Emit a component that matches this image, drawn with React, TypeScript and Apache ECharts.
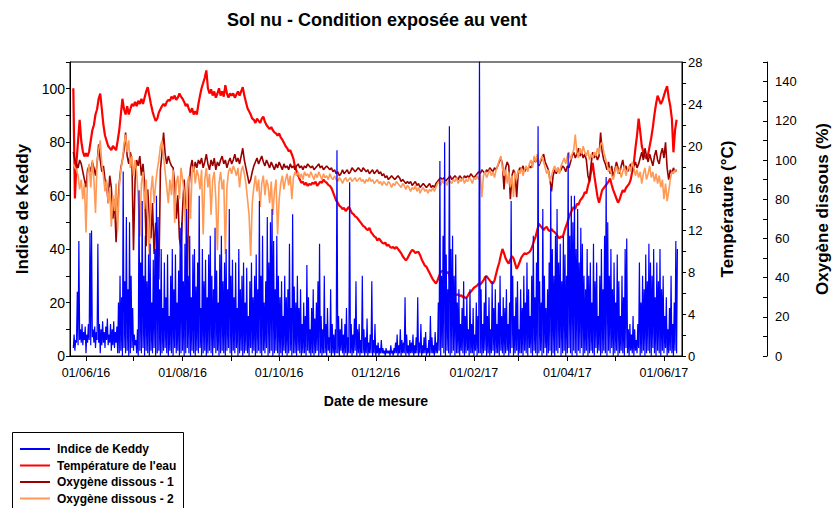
import React, { useEffect, useRef } from "react";
import * as echarts from "echarts";

// ---- data (daily values, day 0 = 24/05/2016) ----
const startDate = "2016-05-24";

const temperature = [
  25.5, 15.0, 18.5, 20.5, 22.5, 20.5, 19.5, 19.0, 19.3, 19.0,
  19.5, 20.5, 21.5, 22.0, 23.0, 23.5, 24.5, 25.0, 23.5, 22.0,
  21.0, 20.5, 20.0, 19.8, 19.6, 20.0, 19.8, 19.6, 20.5, 21.5,
  23.0, 24.5, 23.5, 23.0, 23.8, 23.0, 23.5, 24.0, 23.8, 24.2,
  23.8, 24.3, 24.0, 24.5, 24.0, 24.6, 25.2, 25.6, 24.8, 24.0,
  23.3, 22.8, 22.4, 22.6, 23.2, 23.5, 23.8, 24.0, 23.8, 24.2,
  24.4, 24.3, 24.7, 24.5, 24.8, 24.4, 24.6, 25.0, 24.7, 24.5,
  24.2, 23.8, 24.0, 23.5, 23.2, 23.6, 23.0, 23.3, 23.0, 24.0,
  24.8, 25.5, 26.0, 26.5, 27.2, 25.5, 25.0, 25.4, 24.8, 25.2,
  24.6, 25.0, 25.5, 24.8, 25.2, 24.7, 25.8, 25.0, 24.6, 25.0,
  24.8, 25.0, 24.6, 24.9, 25.2, 24.8, 25.2, 25.6, 24.8, 24.2,
  23.6, 23.3, 23.0, 22.6, 22.5, 22.2, 22.6, 22.4, 22.2, 22.6,
  22.8, 22.3, 22.0, 21.8, 21.6, 21.8, 21.5, 21.3, 21.2, 21.0,
  21.2, 20.8, 20.6, 20.3, 20.0, 19.8, 19.5, 19.6, 19.2, 18.8,
  18.0, 17.6, 17.2, 16.8, 16.5, 16.6, 16.3, 16.5, 16.2, 16.4,
  16.3, 16.5, 16.4, 16.6, 16.2, 16.4, 16.6, 16.5, 16.8, 16.6,
  16.5, 16.3, 16.2, 16.0, 15.6, 15.2, 14.8, 14.6, 14.3, 14.2,
  14.0, 14.1, 13.8, 14.0, 14.2, 13.9, 13.6, 13.5, 13.3, 13.2,
  13.0, 12.8, 12.6, 12.4, 12.3, 12.1, 12.0, 12.2, 11.8, 11.6,
  11.4, 11.3, 11.0, 11.2, 11.0, 10.8, 10.7, 10.8, 10.5, 10.6,
  10.4, 10.3, 10.4, 10.2, 10.4, 10.2, 10.0, 9.8, 9.5, 9.3,
  9.1, 9.3, 9.6, 9.9, 10.1, 10.0, 9.8, 9.9, 9.9, 9.6,
  9.2, 8.9, 8.6, 8.5, 8.2, 7.9, 7.6, 7.3, 7.1, 6.9,
  7.2, 7.6, 8.0, 8.1, 8.0, 8.1, 7.9, 8.0, 7.2, 6.2,
  6.0, 5.9, 5.8, 5.9, 5.7, 5.8, 5.6, 5.6, 5.5, 5.7,
  6.0, 6.1, 6.3, 6.5, 6.6, 6.7, 6.9, 6.8, 7.0, 7.2,
  7.5, 7.6, 7.4, 7.2, 7.0, 6.9, 7.2, 7.8, 8.4, 8.9,
  9.6, 10.2, 9.8, 9.3, 9.0, 8.8, 9.2, 9.5, 9.3, 8.8,
  8.3, 8.6, 9.0, 9.4, 9.6, 9.8, 9.7, 9.8, 9.9, 10.1,
  10.5, 11.0, 11.4, 12.0, 12.6, 12.4, 12.2, 12.0, 12.2, 12.3,
  12.0, 11.9, 12.1, 11.9, 11.8, 11.6, 11.4, 11.2, 11.4, 11.3,
  11.8, 12.3, 12.7, 13.2, 13.6, 13.9, 14.2, 14.0, 14.5, 14.4,
  14.8, 15.0, 15.2, 15.6, 15.5, 16.2, 16.7, 17.6, 18.4, 17.2,
  16.2, 15.2, 14.6, 15.2, 15.8, 16.0, 16.2, 16.4, 16.6, 16.9,
  16.3, 15.8, 15.4, 15.0, 14.6, 14.9, 15.4, 15.8, 15.6, 16.0,
  16.2, 16.4, 16.8, 17.6, 18.4, 19.8, 21.0, 22.6, 21.4, 20.0,
  19.4, 19.0, 18.8, 19.2, 20.0, 20.8, 21.8, 23.0, 24.0, 24.8,
  24.4, 24.0, 24.3, 24.8, 25.3, 25.7, 24.6, 23.8, 22.6, 19.4,
  21.5, 22.5,
];

const oxygen1 = [
  104, 100, 98, 96, 100, 98, 94, 90, 86, 95,
  97, 94, 99, 96, 92, 98, 108, 100, 94, 97,
  90, 88, 78, 92, 86, 70, 80, 58, 75, 88,
  96, 100, 105, 114, 102, 98, 104, 100, 54, 90,
  100, 97, 102, 92, 98, 88, 56, 85, 70, 60,
  78, 52, 68, 62, 39, 95, 104, 114, 103, 98,
  102, 99, 97, 96, 88, 70, 82, 60, 55, 75,
  90, 72, 40, 85, 96, 100, 94, 99, 96, 100,
  98, 101, 96, 99, 103, 98, 95, 100, 97, 101,
  95, 99, 97, 100, 102, 98, 100, 96, 99, 101,
  98, 100, 103, 99, 101, 98, 102, 106, 100, 96,
  92, 88, 90, 94, 97, 99, 101, 98, 100, 102,
  99, 97, 100, 98, 96, 99, 97, 95, 98, 96,
  99, 97, 95, 98, 96, 97, 95, 98, 96, 97,
  95, 97, 98, 96, 97, 95, 97, 96, 98, 97,
  96, 97, 95, 96, 97, 98, 96, 97, 95, 96,
  97, 96, 95, 96, 94, 95, 93, 94, 92, 93,
  95, 93, 94, 95, 93, 94, 96, 95, 94, 95,
  96, 95, 94, 96, 95, 94, 95, 93, 94, 95,
  93, 94, 95, 93, 94, 92, 93, 91, 92, 90,
  91, 92, 91, 90, 91, 92, 91, 89, 90, 89,
  88, 89, 88, 89, 87, 88, 89, 87, 88, 86,
  87, 88, 87, 86, 87, 88, 86, 87, 86, 88,
  89, 90, 91, 90, 91, 89, 90, 91, 92, 90,
  91, 92, 91, 90, 92, 91, 90, 92, 91, 92,
  91, 93, 92, 91, 92, 93, 94, 93, 95, 94,
  93, 95, 94, 96, 95, 94, 96, 95, 97, 99,
  101, 98, 85, 96, 99, 97, 80, 92, 95, 93,
  81, 94, 96, 95, 97, 94, 96, 95, 97, 96,
  98, 100, 99, 101, 97, 99, 101, 103, 99, 97,
  95, 90, 84, 92, 95, 93, 96, 94, 95, 97,
  96, 94, 97, 96, 99, 102, 104, 101, 103, 106,
  102, 104, 101, 103, 100, 92, 89, 98, 104, 101,
  103, 100, 102, 114, 104, 100, 98, 95, 99, 93,
  97, 91, 95, 99, 96, 93, 97, 100, 95, 97,
  94, 96, 98, 94, 97, 99, 96, 98, 101, 104,
  100, 106, 102, 99, 103, 100, 97, 102, 105, 100,
  98, 103, 106, 101, 109, 96, 90, 95, 93, 96,
  94, 95,
];

const oxygen2 = [
  98, 96, 95, 92, 85, 90, 80, 88, 63, 92,
  98, 86, 100, 90, 73, 99, 105, 110, 98, 92,
  84, 90, 78, 86, 66, 82, 74, 88, 64, 86,
  95, 100, 108, 113, 104, 110, 96, 102, 92, 100,
  94, 80, 61, 88, 94, 75, 90, 70, 51, 84,
  92, 78, 88, 95, 100, 107, 110, 102, 94, 86,
  78, 90, 82, 95, 68, 88, 92, 80, 96, 90,
  84, 61, 88, 92, 70, 94, 97, 88, 95, 92,
  85, 95, 62, 90, 96, 86, 93, 72, 90, 94,
  80, 54, 88, 94, 85, 90, 52, 86, 94, 96,
  93, 97, 95, 92, 96, 86, 94, 97, 93, 88,
  80, 72, 51, 78, 86, 92, 84, 90, 76, 88,
  92, 82, 90, 87, 78, 89, 72, 84, 90, 62,
  80, 88, 92, 85, 90, 93, 87, 92, 80, 91,
  94, 92, 94, 91, 93, 90, 94, 92, 93, 91,
  94, 92, 90, 93, 91, 94, 92, 90, 93, 91,
  92, 90, 93, 91, 90, 92, 90, 89, 91, 90,
  88, 90, 91, 89, 90, 91, 89, 90, 91, 89,
  90, 91, 89, 90, 88, 90, 89, 91, 89, 90,
  88, 89, 90, 88, 89, 87, 89, 88, 87, 89,
  88, 86, 88, 87, 89, 88, 87, 86, 88, 87,
  85, 87, 86, 84, 86, 85, 87, 84, 86, 83,
  85, 86, 84, 85, 83, 85, 84, 86, 84, 86,
  88, 89, 87, 90, 88, 89, 87, 90, 89, 88,
  90, 89, 91, 88, 90, 89, 91, 88, 90, 89,
  91, 90, 88, 91, 90, 92, 90, 93, 81, 92,
  94, 91, 93, 95, 92, 94, 91, 95, 97, 100,
  102, 96, 92, 95, 88, 94, 86, 92, 81, 94,
  90, 95, 93, 96, 92, 95, 97, 94, 98, 100,
  96, 102, 99, 103, 98, 100, 102, 99, 96, 93,
  95, 89, 92, 95, 97, 94, 96, 93, 97, 99,
  101, 98, 102, 104, 100, 103, 105, 113, 104, 101,
  106, 103, 107, 104, 102, 105, 100, 103, 101, 104,
  102, 106, 103, 108, 109, 104, 101, 98, 94, 96,
  92, 90, 94, 97, 93, 96, 91, 94, 97, 92,
  95, 97, 94, 99, 96, 92, 95, 91, 94, 88,
  93, 96, 90, 93, 97, 91, 94, 89, 93, 88,
  92, 86, 90, 80, 88, 79, 84, 90, 94, 93,
  95, 94,
];

// Keddy index: daily peak and daily low
const keddyHigh = [
  8, 6, 24, 43, 10, 12, 9, 11, 8,
  12, 46, 47, 10, 11, 9, 42, 12, 10,
  13, 9, 11, 14, 8, 12, 10, 13, 9, 11, 20,
  30, 22, 69, 28, 52, 25, 50, 30, 18, 8,
  6, 10, 62, 35, 58, 30,
  45, 28, 38, 42, 20, 36,
  40, 60, 52, 25,
  40, 18, 35, 22, 38, 15, 30,
  40, 25, 38, 20, 32, 48, 50,
  28, 42, 55, 30, 45, 22, 38, 40, 26, 35, 60, 18,
  40, 28, 36, 22, 38, 45, 30, 25, 48, 32,
  20, 38, 45, 28, 35, 40, 25, 55, 30, 36, 22,
  35, 18, 40, 25, 30, 35, 20, 33, 15, 28, 35, 22,
  30, 38, 25, 58, 30, 45, 20, 28, 52, 35, 50,
  55, 43, 25, 45, 30, 22,
  28, 15, 30, 22, 25, 42, 18, 53, 26, 20, 30,
  18, 25, 12, 20, 15, 34, 22, 10, 18, 25, 14, 20, 28, 42,
  15, 10, 30, 12, 18, 7, 25, 12, 8, 10,
  77, 15, 10, 14, 8, 12, 18, 7, 65, 12,
  8, 14, 28, 10, 12, 6, 30, 10, 7, 14, 5, 8,
  28, 6, 12, 4, 5, 3, 6, 3,
  2, 3, 2, 2, 4, 2, 3,
  5, 8, 4, 10, 6, 5, 22, 8, 4, 6,
  5, 8, 4, 7, 22, 5, 12, 4, 7, 9, 3, 6, 15, 7, 4, 9, 5,
  20, 73, 30, 45, 80, 38, 25, 86, 40, 45, 30, 38,
  20, 25, 12, 18, 28, 15, 22, 10, 25, 12, 18, 8, 20, 15,
  112,
  25, 12, 20, 30, 15, 22, 10, 28, 18, 25, 12, 20, 30, 15, 22,
  18, 25, 12, 20, 58, 30, 15, 22, 28, 10, 25, 18, 30,
  20, 35, 25, 15, 30, 45, 22, 35, 86, 28, 20, 55, 30, 18, 25, 35, 63,
  40, 30, 45, 55, 35, 42, 28, 45, 38, 30, 76,
  45, 60, 50, 60, 40, 55, 35, 48, 42, 30,
  25, 40, 30, 35, 20, 42, 28, 35, 15, 30, 40, 25, 45, 67,
  50, 30, 40, 25, 35, 20, 38, 28, 15, 30, 22, 40, 44,
  10, 12, 8, 15, 10, 6, 12, 35,
  20, 30, 25, 38, 28, 42, 35, 30, 40, 22, 35, 28, 40, 25, 30,
  15, 22, 10, 18, 30, 12, 20, 43, 40,
];

const keddyLow = [
  3, 2, 5, 4, 6, 5, 4, 6, 1, 5, 6, 4, 7, 5, 3, 6, 5, 1, 4, 5,
  3, 6, 4, 5, 2, 4, 3, 5, 1,
  1, 2, 0, 3, 1, 2, 0, 1, 3, 2, 4, 1, 0, 2, 1, 3, 0, 2, 1, 0,
  2, 1, 3, 0, 1, 2, 0, 1, 2, 3, 1, 0, 2, 1, 0, 3, 1, 2, 0, 1,
  2, 0, 1, 3, 1, 0, 2, 1, 0, 2, 1, 3, 0, 1, 2, 0, 1, 2, 1, 0,
  3, 1, 2, 0, 1, 2, 1, 0, 2, 3, 1, 0, 2, 1, 3, 0, 1, 2, 0, 1,
  2, 1, 0, 3, 1, 2, 0, 1, 2, 1, 0, 2, 1, 3, 0, 1, 2, 0, 1, 2,
  1, 0,
  1, 0, 2, 1, 0, 1, 2, 0, 1, 1, 0, 2, 1, 0, 1, 1, 0, 2, 1, 0,
  1, 0, 1, 2, 0, 1, 0, 1, 1, 0, 2, 1, 0, 1, 0, 1, 1, 0, 2, 1,
  0, 1, 0, 1, 1, 0, 1, 2, 0, 1, 0, 1, 1, 0, 1, 0, 1, 1, 0, 1,
  0, 1, 0, 1, 1,
  1, 0, 1, 1, 0, 1, 0, 1, 1, 0, 1, 0, 1, 1, 0, 1, 0, 1, 1, 0,
  1, 1, 0, 1, 0, 1, 1, 0, 1, 0, 1, 1, 0, 1,
  1, 2, 0, 3, 1, 0, 2, 1, 0, 1, 2, 0, 1, 1, 0, 2, 1, 0, 1, 2,
  0, 1, 1, 0, 2, 0, 1, 1, 0, 1, 2, 0, 1, 0, 1, 2, 0, 1, 1, 0,
  2, 1, 0, 1, 2, 0, 1, 3, 0, 1, 2, 0, 1, 1, 0, 2, 1, 0, 3, 1,
  0, 2, 1, 0, 1, 2, 0, 1, 3, 0, 1, 2, 0, 1, 0, 2, 1, 3, 0, 1,
  2, 0, 1, 3, 1, 0, 2, 1, 0, 2, 1, 3, 0, 1, 2, 0, 1, 2, 1, 0,
  3, 1, 2, 0, 1, 2, 1, 0, 2, 1, 3, 0, 1, 2, 0, 1, 2, 1, 0, 3,
  1, 0, 2, 1, 0, 2, 1, 3, 0, 1, 2, 0, 1, 2, 1, 0, 3, 1, 0, 2,
  1, 0, 2, 1, 3, 0, 1, 2, 1, 0, 2, 1,
];

const tickMonths = [
  "2016-06-01", "2016-07-01", "2016-08-01", "2016-09-01", "2016-10-01",
  "2016-11-01", "2016-12-01", "2017-01-01", "2017-02-01", "2017-03-01",
  "2017-04-01", "2017-05-01", "2017-06-01",
];
const labelMonths = [
  "2016-06-01", "2016-08-01", "2016-10-01", "2016-12-01",
  "2017-02-01", "2017-04-01", "2017-06-01",
];

const seriesNames = [
  "Indice de Keddy",
  "Température de l'eau",
  "Oxygène dissous - 1",
  "Oxygène dissous - 2",
];
const seriesColors = ["#0000ff", "#ff0000", "#990000", "#ff9955"];

const DAY = 86400000;
const ts = (s: string) => Date.parse(s + "T00:00:00Z");
const FONT = '"Liberation Sans", Arial, Helvetica, sans-serif';

const fmtDate = (v: number) => {
  const d = new Date(v);
  const dd = String(d.getUTCDate()).padStart(2, "0");
  const mm = String(d.getUTCMonth() + 1).padStart(2, "0");
  const yy = String(d.getUTCFullYear() % 100).padStart(2, "0");
  return `${dd}/${mm}/${yy}`;
};

export default function App() {
  const ref = useRef<HTMLDivElement>(null);

  useEffect(() => {
    if (!ref.current) return;
    const chart = echarts.init(ref.current, undefined, { renderer: "svg" });
    const t0 = ts(startDate);
    const daily = (arr: number[]) => arr.map((v, i) => [t0 + i * DAY, v]);
    const keddy: number[][] = [];
    keddyHigh.forEach((h, i) => {
      keddy.push([t0 + i * DAY, keddyLow[i]]);
      keddy.push([t0 + i * DAY + DAY / 2, h]);
    });

    const axisLineStyle = { color: "#000", width: 1 };
    const lineCommon = {
      type: "line" as const,
      showSymbol: false,
      symbol: "none",
      silent: true,
      clip: true,
      animation: false,
    };

    const legendItems: any[] = [];
    const legendY = [449, 465.5, 482, 498.5];
    seriesNames.forEach((n, i) => {
      legendItems.push({
        type: "line",
        shape: { x1: 20, y1: legendY[i], x2: 50, y2: legendY[i] },
        style: { stroke: seriesColors[i], lineWidth: 2 },
      });
      legendItems.push({
        type: "text",
        x: 57,
        y: legendY[i],
        style: {
          text: n,
          font: `bold 12px ${FONT}`,
          fill: "#000",
          align: "left",
          verticalAlign: "middle",
        },
      });
    });

    chart.setOption({
      animation: false,
      backgroundColor: "#fff",
      grid: {
        left: 70,
        right: 150,
        top: 62,
        bottom: 152,
        show: true,
        borderColor: "#000",
        borderWidth: 1,
        backgroundColor: "transparent",
      },
      xAxis: {
        type: "value",
        min: t0 - 2.1 * DAY,
        max: t0 + 384.4 * DAY,
        axisLine: { show: true, onZero: false, lineStyle: axisLineStyle },
        axisTick: {
          show: true,
          length: 5,
          customValues: tickMonths.map(ts),
          lineStyle: axisLineStyle,
        },
        axisLabel: {
          customValues: labelMonths.map(ts),
          formatter: (v: number) => fmtDate(v),
          margin: 10,
          fontSize: 12.5,
          fontFamily: FONT,
          color: "#000",
          hideOverlap: false,
        },
        splitLine: { show: false },
      },
      yAxis: [
        {
          type: "value",
          position: "left",
          min: 0,
          max: 110,
          interval: 10,
          axisLine: { show: true, lineStyle: axisLineStyle },
          axisTick: { show: true, length: 4, lineStyle: axisLineStyle },
          axisLabel: {
            formatter: (v: number) => (Math.round(v) % 20 === 0 && v <= 100 ? String(Math.round(v)) : ""),
            margin: 5,
            fontSize: 14,
            fontFamily: FONT,
            color: "#000",
          },
          splitLine: { show: false },
        },
        {
          type: "value",
          position: "right",
          min: 0,
          max: 28,
          interval: 2,
          axisLine: { show: true, onZero: false, lineStyle: axisLineStyle },
          axisTick: { show: true, length: 4, lineStyle: axisLineStyle },
          axisLabel: {
            formatter: (v: number) => (Math.round(v) % 4 === 0 ? String(Math.round(v)) : ""),
            margin: 6,
            fontSize: 13,
            fontFamily: FONT,
            color: "#000",
          },
          splitLine: { show: false },
        },
        {
          type: "value",
          position: "right",
          offset: 85,
          min: 0,
          max: 150,
          interval: 10,
          axisLine: { show: true, onZero: false, lineStyle: axisLineStyle },
          axisTick: { show: true, inside: true, length: 4, lineStyle: axisLineStyle },
          axisLabel: {
            formatter: (v: number) => (Math.round(v) % 20 === 0 && v < 150 ? String(Math.round(v)) : ""),
            margin: 8,
            fontSize: 13,
            fontFamily: FONT,
            color: "#000",
          },
          splitLine: { show: false },
        },
      ],
      series: [
        {
          ...lineCommon,
          name: seriesNames[1],
          yAxisIndex: 1,
          data: daily(temperature),
          lineStyle: { color: seriesColors[1], width: 2.2 },
          itemStyle: { color: seriesColors[1] },
          z: 2,
        },
        {
          ...lineCommon,
          name: seriesNames[2],
          yAxisIndex: 2,
          data: daily(oxygen1),
          lineStyle: { color: seriesColors[2], width: 1.6 },
          itemStyle: { color: seriesColors[2] },
          z: 3,
        },
        {
          ...lineCommon,
          name: seriesNames[3],
          yAxisIndex: 2,
          data: daily(oxygen2),
          lineStyle: { color: seriesColors[3], width: 1.6 },
          itemStyle: { color: seriesColors[3] },
          z: 4,
        },
        {
          ...lineCommon,
          name: seriesNames[0],
          yAxisIndex: 0,
          data: keddy,
          lineStyle: { color: seriesColors[0], width: 1.2 },
          itemStyle: { color: seriesColors[0] },
          z: 5,
        },
      ],
      graphic: [
        {
          type: "text",
          x: 377,
          y: 20,
          style: {
            text: "Sol nu - Condition exposée au vent",
            font: `bold 18px ${FONT}`,
            fill: "#000",
            align: "center",
            verticalAlign: "middle",
          },
        },
        {
          type: "text",
          x: 22,
          y: 209,
          rotation: Math.PI / 2,
          style: {
            text: "Indice de Keddy",
            font: `bold 17px ${FONT}`,
            fill: "#000",
            align: "center",
            verticalAlign: "middle",
          },
        },
        {
          type: "text",
          x: 727,
          y: 209,
          rotation: Math.PI / 2,
          style: {
            text: "Température (°C)",
            font: `bold 17px ${FONT}`,
            fill: "#000",
            align: "center",
            verticalAlign: "middle",
          },
        },
        {
          type: "text",
          x: 822,
          y: 209,
          rotation: Math.PI / 2,
          style: {
            text: "Oxygène dissous (%)",
            font: `bold 17px ${FONT}`,
            fill: "#000",
            align: "center",
            verticalAlign: "middle",
          },
        },
        {
          type: "text",
          x: 376,
          y: 401,
          style: {
            text: "Date de mesure",
            font: `bold 14px ${FONT}`,
            fill: "#000",
            align: "center",
            verticalAlign: "middle",
          },
        },
        {
          type: "rect",
          shape: { x: 12.5, y: 432.5, width: 171, height: 90 },
          style: { fill: "#fff", stroke: "#000", lineWidth: 1 },
        },
        ...legendItems,
      ],
    });

    return () => chart.dispose();
  }, []);

  return (
    <div
      ref={ref}
      style={{ position: "absolute", left: 0, top: 0, width: 832, height: 508 }}
    />
  );
}
